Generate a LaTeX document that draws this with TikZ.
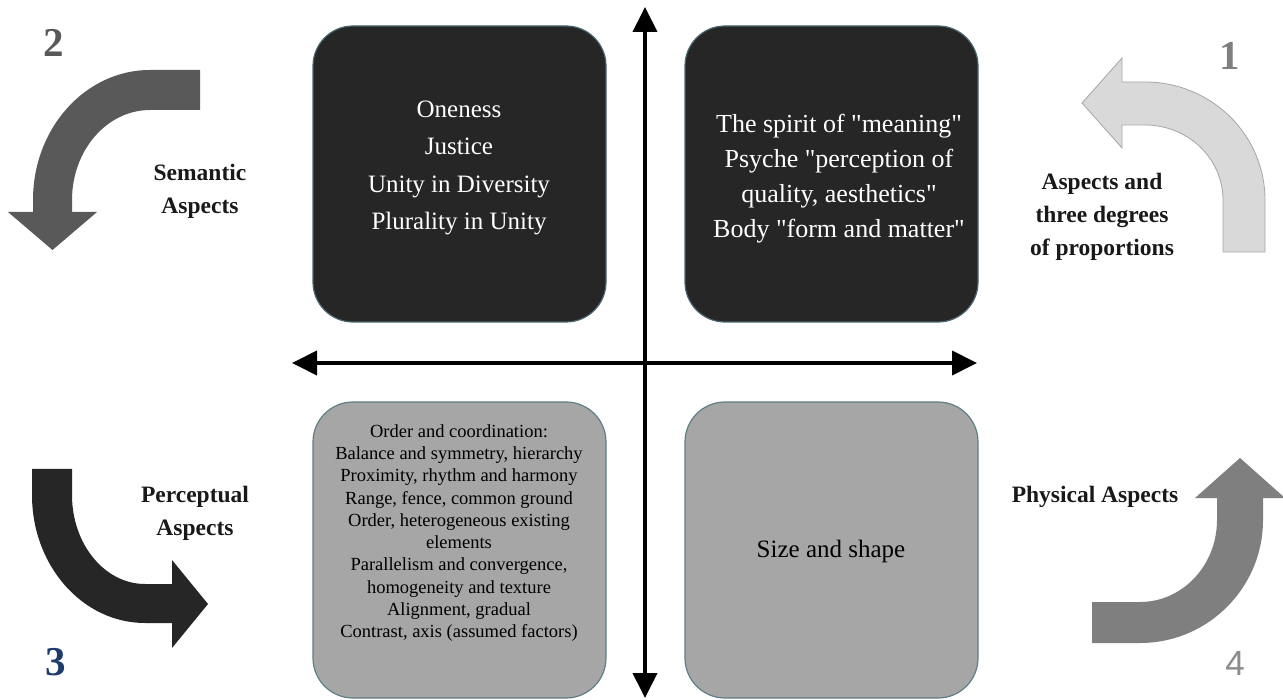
\documentclass[tikz,border=0pt]{standalone}
\usepackage{fontspec}
\setmainfont{Liberation Serif}
\newfontfamily\quotefont{Liberation Serif}[Ligatures=TeXOff]
\newfontfamily\sansdigits{Liberation Sans}
\usetikzlibrary{arrows.meta}

\definecolor{boxdark}{HTML}{262626}
\definecolor{boxdarkedge}{HTML}{4A6670}
\definecolor{boxgray}{HTML}{A6A6A6}
\definecolor{boxgrayedge}{HTML}{5F7F86}
\definecolor{arrowone}{HTML}{D9D9D9}
\definecolor{arrowoneedge}{HTML}{A6A6A6}
\definecolor{arrowtwo}{HTML}{595959}
\definecolor{arrowthree}{HTML}{262626}
\definecolor{arrowfour}{HTML}{7F7F7F}
\definecolor{numnavy}{HTML}{1F3B6E}

% straight double quote
\newcommand{\sq}{{\quotefont\symbol{34}}}

\tikzset{
  quadbox/.style={rectangle, rounded corners=40pt, minimum width=293pt,
    minimum height=296pt, line width=1.2pt, inner sep=0pt},
  darkbox/.style={quadbox, fill=boxdark, draw=boxdarkedge},
  graybox/.style={quadbox, fill=boxgray, draw=boxgrayedge},
  bigtext/.style={align=center, text=white, font=\fontsize{25}{37.3}\selectfont},
  smalltext/.style={align=center, text=black, font=\fontsize{18.5}{22.3}\selectfont},
  sidelabel/.style={align=center, text=black!90, font=\bfseries\fontsize{23.5}{33}\selectfont},
  stepnum/.style={anchor=base, font=\bfseries\fontsize{41}{41}\selectfont},
  axisline/.style={line width=4pt, {Triangle[length=25pt,width=24pt]}-{Triangle[length=25pt,width=24pt]}},
}

\begin{document}
\begin{tikzpicture}[x=1pt, y=-1pt]
  \useasboundingbox (0,0) rectangle (1283,700);
  \fill[white] (0,0) rectangle (1283,700);

  % four quadrant boxes
  \node[darkbox] (tl) at (459.5,174) {};
  \node[darkbox] (tr) at (831.5,174) {};
  \node[graybox] (bl) at (459.5,550) {};
  \node[graybox] (br) at (831.5,550) {};

  % box contents
  \node[bigtext] (tltext) at (459,168) {Oneness\\Justice\\Unity in Diversity\\Plurality in Unity};
  \node[bigtext, font=\fontsize{26}{35}\selectfont] (trtext) at (839,179) {The spirit of \sq meaning\sq\\Psyche \sq perception of\\quality, aesthetics\sq\\Body \sq form and matter\sq};
  \node[smalltext] (bltext) at (459,533) {Order and coordination:\\Balance and symmetry, hierarchy\\Proximity, rhythm and harmony\\Range, fence, common ground\\Order, heterogeneous existing\\elements\\Parallelism and convergence,\\homogeneity and texture\\Alignment, gradual\\Contrast, axis (assumed factors)};
  \node[anchor=base, font=\fontsize{25}{30}\selectfont] (brtext) at (831,557) {Size and shape};

  % axes
  \coordinate (axtop) at (645,7);
  \coordinate (axbottom) at (645,698);
  \coordinate (axleft) at (292,363);
  \coordinate (axright) at (977,363);
  \draw[axisline] (axleft) -- (axright);
  \draw[axisline] (axbottom) -- (axtop);

  % curved arrow 1 (top right, light)
  \filldraw[fill=arrowone, draw=arrowoneedge, line width=0.8pt]
    (1082,103) -- (1122,58) -- (1122,82) -- (1145,82)
    .. controls (1211.3,82) and (1265,134.8) .. (1265,200)
    -- (1265,252) -- (1223,252) -- (1223,200)
    .. controls (1223,158.6) and (1188.1,125) .. (1145,125)
    -- (1122,125) -- (1122,148) -- cycle;

  % curved arrow 2 (top left)
  \fill[arrowtwo]
    (200,70) -- (150,70)
    .. controls (85.4,70) and (33,128.2) .. (33,200)
    -- (33,212) -- (8,212) -- (52.5,250) -- (97,212) -- (72,212) -- (72,200)
    .. controls (72,150.3) and (106.9,110) .. (150,110)
    -- (200,110) -- cycle;

  % curved arrow 3 (bottom left)
  \fill[arrowthree]
    (32,469) -- (32,495)
    .. controls (32,565.7) and (82.6,623) .. (145,623)
    -- (172,623) -- (172,648) -- (208,604) -- (172,560) -- (172,584) -- (145,584)
    .. controls (104.7,584) and (72,544.2) .. (72,495)
    -- (72,469) -- cycle;

  % curved arrow 4 (bottom right)
  \fill[arrowfour]
    (1092,602) -- (1140,602)
    .. controls (1182.5,602) and (1217,565.3) .. (1217,520)
    -- (1217,498) -- (1195,498) -- (1240,458) -- (1285,498) -- (1263,498) -- (1263,520)
    .. controls (1263,587.9) and (1207.9,643) .. (1140,643)
    -- (1092,643) -- cycle;

  % aspect labels
  \node[sidelabel] (semantic) at (200,191) {Semantic\\Aspects};
  \node[sidelabel] (proportions) at (1102,217) {Aspects and\\three degrees\\of proportions};
  \node[sidelabel] (perceptual) at (195,513) {Perceptual\\Aspects};
  \node[sidelabel, anchor=base] (physical) at (1095,502) {Physical Aspects};

  % step numbers
  \node[stepnum, text=arrowtwo] (n2) at (54,57) {2};
  \node[stepnum, text=arrowfour] (n1) at (1230,70) {1};
  \node[stepnum, text=numnavy] (n3) at (56,675) {3};
  \node[anchor=base, text=black!45, font=\sansdigits\fontsize{35}{35}\selectfont] (n4) at (1235,675) {4};
\end{tikzpicture}
\end{document}
